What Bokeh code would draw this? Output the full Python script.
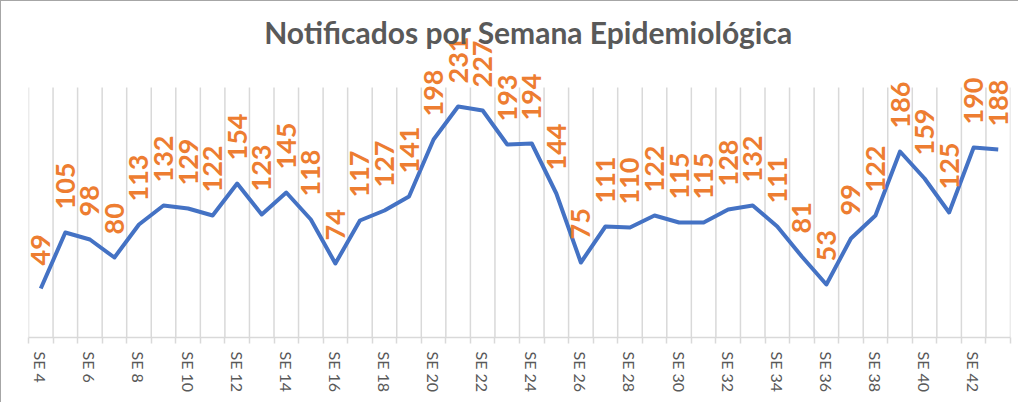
from bokeh.plotting import figure
from bokeh.models import ColumnDataSource, FixedTicker, Range1d, LabelSet, Label
from bokeh.core.properties import value
from bokeh.embed import file_html
from bokeh.resources import INLINE

weeks = [4, 5, 6, 7, 8, 9, 10, 11, 12, 13, 14, 15, 16, 17, 18, 19, 20, 21, 22, 23,
         24, 25, 26, 27, 28, 29, 30, 31, 32, 33, 34, 35, 36, 37, 38, 39, 40, 41, 42, 43]
notified = [49, 105, 98, 80, 113, 132, 129, 122, 154, 123, 145, 118, 74, 117, 127, 141,
            198, 231, 227, 193, 194, 144, 75, 111, 110, 122, 115, 115, 128, 132, 111, 81,
            53, 99, 122, 186, 159, 125, 190, 188]
tick_weeks = [4, 6, 8, 10, 12, 14, 16, 18, 20, 22, 24, 26, 28, 30, 32, 34, 36, 38, 40, 42]
tick_labels = {w: "SE %d" % w for w in tick_weeks}
title_text = "Notificados por Semana Epidemiológica"
axis_max = 250

FONT = "Lato"
boundaries = [w - 0.5 for w in weeks] + [weeks[-1] + 0.5]

src = ColumnDataSource(dict(x=weeks, y=notified, lbl=[str(v) for v in notified]))
grid_src = ColumnDataSource(dict(x=boundaries, y0=[0] * len(boundaries),
                                 y1=[axis_max] * len(boundaries)))

p = figure(width=1018, height=402, output_backend="svg", toolbar_location=None,
           x_range=Range1d(weeks[0] - 0.5, weeks[-1] + 0.5), y_range=Range1d(0, 321),
           min_border_left=27, min_border_right=9, min_border_top=15, min_border_bottom=66)
p.styles = {"border-top": "1px solid #a6a6a6", "border-left": "1px solid #a6a6a6"}

p.outline_line_color = None
p.yaxis.visible = False
p.ygrid.visible = False
p.xgrid.visible = False

ax = p.xaxis[0]
ax.ticker = FixedTicker(ticks=tick_weeks, minor_ticks=boundaries)
ax.major_label_overrides = tick_labels
ax.major_label_orientation = "vertical"
ax.major_label_text_font = FONT
ax.major_label_text_font_size = "16px"
ax.major_label_text_color = "#595959"
ax.major_tick_line_color = None
ax.major_tick_out = 6
ax.major_tick_in = 0
ax.major_label_standoff = 8
ax.minor_tick_line_color = "#d9d9d9"
ax.minor_tick_line_width = 1.5
ax.minor_tick_out = 6
ax.minor_tick_in = 0
ax.axis_line_color = "#d9d9d9"
ax.axis_line_width = 1.5

p.segment(x0="x", y0="y0", x1="x", y1="y1", source=grid_src,
          line_color="#d9d9d9", line_width=1.5)
p.line("x", "y", source=src, line_color="#4472C4", line_width=4, line_join="round")
labels = LabelSet(x="x", y="y", text="lbl", source=src, angle=1.5708, text_align="left",
                  text_baseline="middle", y_offset=23, text_color="#ED7D31",
                  text_font=value(FONT), text_font_style="bold", text_font_size="27px")
p.add_layout(labels)

title = Label(x=500, y=306, x_units="screen", y_units="screen", text=title_text,
              text_align="center", text_baseline="alphabetic", text_font=FONT,
              text_font_style="bold", text_font_size="30px", text_color="#595959")
p.add_layout(title)

open("out.html", "w").write(file_html(p, INLINE))
